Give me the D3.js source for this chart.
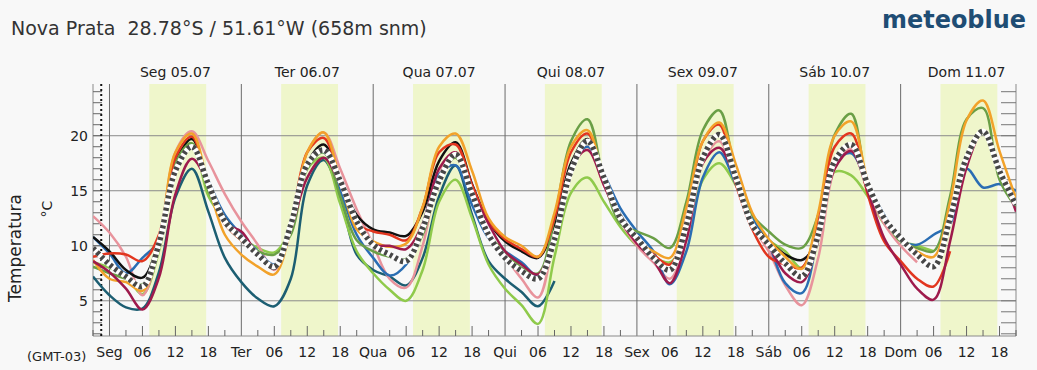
<!DOCTYPE html>
<html lang="pt">
<head>
<meta charset="UTF-8">
<title>Nova Prata multimodel</title>
<script src="https://cdn.jsdelivr.net/npm/d3@7"></script>
<style>
  body { margin: 0; background: #f8f8f8; }
  text { font-family: "DejaVu Sans", sans-serif; fill: #222; }
</style>
</head>
<body>
<script>
  // hours since Seg 05.07 00:00, every 3 h from Sun 21:00 to Sun 11 21:00
  const hours = d3.range(-3, 166, 3);

  const dayNames = ["Seg", "Ter", "Qua", "Qui", "Sex", "Sáb", "Dom"];
  const dayDates = ["05.07", "06.07", "07.07", "08.07", "09.07", "10.07", "11.07"];
  const hourLabels = ["06", "12", "18"];
  const tempTicks = [5, 10, 15, 20];
  const sunrise = 7.25, sunset = 17.6;

  // values per series: first at -3h, then 8 per day (00 03 06 09 12 15 18 21)
  const black = [10.8,
    9.5, 7.8, 7.1, 10.5, 17.5, 19.7, 15.8, 12.5,
    10.8, 9.3, 7.9, 11.5, 17.5, 19.2, 16.0, 12.8,
    11.5, 11.2, 10.9, 13.1, 17.7, 19.4, 15.6, 12.2,
    10.4, 9.5, 8.9, 12.0, 17.5, 19.7, 16.0, 12.8,
    10.7, 9.0, 7.8, 12.0, 18.0, 20.1, 16.2, 12.0,
    10.5, 9.2, 8.7, 10.3, null, null, null, null,
    null, null, null, null, null, null, null, null];
  const orange = [8.7,
    7.0, 6.7, 5.9, 10.0, 18.5, 20.2, 15.5, 11.0,
    9.2, 8.1, 7.4, 11.5, 18.5, 20.3, 16.0, 11.5,
    10.4, 9.9, 10.2, 13.5, 19.0, 20.2, 16.8, 12.5,
    10.8, 10.0, 9.0, 13.0, 19.0, 20.5, 16.0, 12.5,
    10.4, 9.5, 8.9, 13.5, 19.5, 21.2, 17.4, 13.0,
    10.6, 9.0, 7.9, 13.0, 20.0, 21.3, 15.9, 12.5,
    10.7, 9.5, 9.0, 14.0, 21.4, 23.2, 18.6, 14.3];
  const red = [9.0,
    9.3, 9.2, 8.6, 11.0, 18.0, 19.9, 15.5, 12.0,
    10.5, 9.2, 8.1, 12.0, 18.5, 19.8, 16.0, 12.0,
    11.3, 11.0, 10.5, 13.5, 18.5, 19.2, 15.5, 12.2,
    10.6, 9.7, 9.0, 12.5, 18.5, 20.2, 16.0, 12.5,
    10.5, 9.2, 8.3, 12.5, 19.5, 21.0, 15.6, 11.5,
    9.0, 8.3, 8.0, 12.5, 19.0, 20.2, 14.7, 10.4,
    8.6, 7.0, 6.3, 9.5, null, null, null, null];
  const crimson = [8.6,
    7.6, 6.1, 4.2, 7.1, 14.7, 17.9, 15.6, 12.0,
    11.3, 9.2, 8.1, 11.5, 16.2, 18.0, 15.6, 12.0,
    10.1, 10.0, 9.7, 12.0, 17.0, 18.5, 15.0, 12.0,
    9.5, 8.3, 7.4, 11.0, 17.0, 18.7, 15.5, 12.3,
    10.2, 8.7, 6.6, 10.5, 17.5, 18.9, 16.0, 12.0,
    10.0, 7.5, 6.7, 10.5, 17.0, 18.6, 15.0, 10.7,
    8.3, 6.1, 5.1, 10.4, 17.1, 20.4, 17.1, 13.1];
  const teal = [7.2,
    5.5, 4.4, 4.3, 7.6, 14.4, 17.0, 13.1, 8.9,
    6.7, 5.2, 4.5, 7.0, 15.5, 17.8, 14.5, 9.2,
    7.8, 7.2, 6.4, 8.9, 14.5, 17.3, 12.8, 8.6,
    7.0, 5.8, 4.5, 6.8, null, null, null, null,
    null, null, null, null, null, null, null, null,
    null, null, null, null, null, null, null, null,
    null, null, null, null, null, null, null, null];
  const blue = [10.8,
    9.3, 7.5, 8.9, 10.5, 18.0, 19.2, 15.9, 12.8,
    11.0, 9.5, 8.3, 11.5, 17.5, 18.5, 15.0, 11.0,
    8.9, 7.3, 8.3, 11.9, 16.5, 17.3, 13.7, 10.7,
    9.5, 8.5, 7.3, 11.0, 17.0, 19.0, 16.5, 13.4,
    11.3, 9.5, 6.5, 9.5, 16.2, 18.5, 15.6, 12.5,
    10.1, 6.6, 5.7, 11.0, 17.5, 18.4, 15.6, 12.8,
    10.5, 10.1, 11.0, 12.0, 17.0, 15.3, 15.6, 15.0];
  const olive = [8.1,
    7.5, 7.0, 6.5, 10.0, 17.5, 19.3, 15.0, 12.0,
    10.5, 9.5, 9.2, 11.0, 17.0, 18.5, 14.5, 10.5,
    9.5, 9.0, 8.8, 11.0, 16.0, 18.0, 14.5, 11.0,
    9.5, 8.0, 7.5, 12.5, 19.5, 21.5, 16.0, 12.0,
    11.3, 10.7, 9.8, 14.0, 20.5, 22.3, 16.5, 12.8,
    11.3, 10.1, 9.8, 12.8, 20.1, 22.0, 15.5, 12.5,
    10.4, 9.8, 9.5, 14.5, 21.5, 22.5, 16.0, 13.5];
  const lightGreen = [8.5,
    8.0, 7.3, 5.6, 9.5, 17.5, 19.3, 14.5, 12.3,
    10.8, 9.8, 9.4, 11.5, 17.0, 18.0, 13.8, 9.5,
    7.5, 6.0, 5.0, 7.8, 14.0, 16.0, 12.5, 8.3,
    6.1, 4.6, 2.9, 9.0, 14.8, 16.2, 14.0, 11.7,
    10.0, 9.0, 8.5, 11.0, 16.0, 17.5, 15.5, 12.5,
    10.5, 9.5, 8.0, 12.0, 16.7, 16.4, 14.5, 12.0,
    10.5, 10.0, 9.5, null, null, null, null, null];
  const pink = [12.7,
    11.2, 9.0, 5.5, 10.0, 18.5, 20.4, 17.7, 14.7,
    12.2, 10.1, 7.8, 11.5, 18.5, 20.3, 17.0, 13.3,
    10.1, 7.0, 6.2, 10.0, 16.5, 18.5, 14.5, 11.0,
    9.0, 7.0, 5.3, 11.0, 17.0, 19.0, 15.5, 12.3,
    10.0, 8.5, 7.0, 10.5, 17.5, 19.5, 15.7, 11.8,
    9.5, 6.4, 4.6, 8.9, 17.0, 18.8, 15.0, 12.0,
    10.0, 8.5, null, null, null, null, null, null];
  const mean = [9.8,
    8.3, 7.2, 6.3, 10.2, 16.8, 19.0, 15.6, 12.2,
    10.7, 9.2, 8.1, 11.9, 17.4, 18.7, 15.9, 12.2,
    10.1, 9.2, 8.6, 11.6, 15.9, 18.3, 14.7, 11.0,
    8.9, 7.7, 7.0, 10.6, 16.8, 19.5, 16.2, 12.5,
    10.7, 8.9, 7.8, 11.9, 18.0, 20.1, 16.2, 11.9,
    10.1, 8.4, 7.2, 11.0, 17.7, 19.2, 15.6, 12.5,
    10.7, 9.2, 8.1, 12.5, 18.0, 20.4, 16.8, 13.7];

  const models = [
    { values: teal, color: "#1c5e72" },
    { values: lightGreen, color: "#8fca4b" },
    { values: pink, color: "#e8939c" },
    { values: blue, color: "#2a6db3" },
    { values: black, color: "#111111" },
    { values: olive, color: "#6a9f46" },
    { values: red, color: "#e2361f" },
    { values: orange, color: "#f2a22a" },
    { values: crimson, color: "#9e1a4c" }
  ];

  const w = 1037, h = 370;
  const pLeft = 93, pRight = 1016, pTop = 84, pBottom = 336;

  const xScale = d3.scaleLinear().domain([-3, 165]).range([pLeft, pRight]);
  const yScale = d3.scaleLinear().domain([1.8, 24.7]).range([pBottom, pTop]);

  const svg = d3.select("body").append("svg")
      .attr("width", w)
      .attr("height", h);

  svg.append("defs").append("clipPath").attr("id", "plot")
     .append("rect")
     .attr("x", pLeft).attr("y", pTop)
     .attr("width", pRight - pLeft).attr("height", pBottom - pTop);

  // title + logo
  svg.append("text")
     .attr("x", 11).attr("y", 35)
     .style("font-size", "19px").style("fill", "#333")
     .style("white-space", "pre")
     .text("Nova Prata  28.78°S / 51.61°W (658m snm)");

  svg.append("text")
     .attr("x", 1026).attr("y", 28)
     .attr("text-anchor", "end")
     .attr("textLength", 144).attr("lengthAdjust", "spacingAndGlyphs")
     .style("font-size", "25px").style("font-weight", "bold").style("fill", "#1f4d74")
     .text("meteoblue");

  // daylight bands
  svg.append("g").selectAll("rect")
     .data(d3.range(7))
     .enter().append("rect")
     .attr("x", d => xScale(d * 24 + sunrise))
     .attr("y", pTop)
     .attr("width", xScale(sunset) - xScale(sunrise))
     .attr("height", pBottom - pTop)
     .attr("fill", "#eff6cb");

  // horizontal grid
  svg.append("g").selectAll("line")
     .data(tempTicks)
     .enter().append("line")
     .attr("x1", pLeft).attr("x2", pRight)
     .attr("y1", d => yScale(d)).attr("y2", d => yScale(d))
     .attr("stroke", "#8a8a8a").attr("stroke-width", 1);

  // day separators
  svg.append("g").selectAll("line")
     .data(d3.range(0, 7))
     .enter().append("line")
     .attr("x1", d => xScale(d * 24)).attr("x2", d => xScale(d * 24))
     .attr("y1", pTop).attr("y2", pBottom)
     .attr("stroke", "#6b6b6b").attr("stroke-width", 1);

  // frame
  svg.append("path")
     .attr("d", `M${pLeft},${pTop}V${pBottom}H${pRight}V${pTop}`)
     .attr("fill", "none").attr("stroke", "#8a8a8a");

  // temperature ticks, left and right, every degree
  const degTicks = d3.range(2, 25);
  svg.append("g").selectAll("line")
     .data(degTicks)
     .enter().append("line")
     .attr("x1", pLeft).attr("x2", pLeft + 9)
     .attr("y1", d => yScale(d)).attr("y2", d => yScale(d))
     .attr("stroke", "#666");
  svg.append("g").selectAll("line")
     .data(degTicks)
     .enter().append("line")
     .attr("x1", pRight - 15).attr("x2", pRight)
     .attr("y1", d => yScale(d)).attr("y2", d => yScale(d))
     .attr("stroke", "#777");

  // time ticks every 3 hours
  svg.append("g").selectAll("line")
     .data(d3.range(-3, 166, 3).filter(d => d % 24 !== 0))
     .enter().append("line")
     .attr("x1", d => xScale(d)).attr("x2", d => xScale(d))
     .attr("y1", pBottom).attr("y2", d => pBottom - (d % 6 === 0 ? 10 : 6))
     .attr("stroke", "#666");

  // now marker
  svg.append("line")
     .attr("x1", xScale(-1.5)).attr("x2", xScale(-1.5))
     .attr("y1", pTop).attr("y2", pBottom)
     .attr("stroke", "#111").attr("stroke-width", 2)
     .attr("stroke-dasharray", "2,3");

  // model lines
  const line = d3.line()
     .defined(d => d[1] !== null)
     .x(d => xScale(d[0]))
     .y(d => yScale(d[1]))
     .curve(d3.curveCatmullRom.alpha(0.5));

  const lines = svg.append("g").attr("clip-path", "url(#plot)");
  models.forEach(m => {
    lines.append("path")
      .attr("d", line(hours.map((t, i) => [t, m.values[i]])))
      .attr("fill", "none")
      .attr("stroke", m.color)
      .attr("stroke-width", 2.5)
      .attr("stroke-linejoin", "round");
  });

  // ensemble mean, dashed dark over white
  const meanPts = hours.map((t, i) => [t, mean[i]]);
  lines.append("path")
     .attr("d", line(meanPts))
     .attr("fill", "none").attr("stroke", "#ffffff").attr("stroke-width", 5.5);
  lines.append("path")
     .attr("d", line(meanPts))
     .attr("fill", "none").attr("stroke", "#474747").attr("stroke-width", 5.5)
     .attr("stroke-dasharray", "3,3");

  // y labels
  svg.append("g").selectAll("text")
     .data(tempTicks)
     .enter().append("text")
     .attr("x", 88).attr("y", d => yScale(d) + 5)
     .attr("text-anchor", "end")
     .style("font-size", "14px")
     .text(d => d);

  svg.append("text")
     .attr("transform", "translate(21,248) rotate(-90)")
     .attr("text-anchor", "middle")
     .style("font-size", "17px")
     .text("Temperatura");
  svg.append("text")
     .attr("transform", "translate(52,209) rotate(-90)")
     .attr("text-anchor", "middle")
     .style("font-size", "14px")
     .text("°C");

  // top day labels
  svg.append("g").selectAll("text")
     .data(d3.range(7))
     .enter().append("text")
     .attr("x", d => xScale(d * 24 + 12)).attr("y", 77)
     .attr("text-anchor", "middle")
     .style("font-size", "14px")
     .text(d => dayNames[d] + " " + dayDates[d]);

  // bottom axis labels
  const bottomLabels = [];
  dayNames.forEach((n, d) => {
    bottomLabels.push([d * 24, n]);
    hourLabels.forEach(hl => bottomLabels.push([d * 24 + (+hl), hl]));
  });
  svg.append("g").selectAll("text")
     .data(bottomLabels)
     .enter().append("text")
     .attr("x", d => xScale(d[0])).attr("y", 357)
     .attr("text-anchor", "middle")
     .style("font-size", "14px")
     .text(d => d[1]);

  svg.append("text")
     .attr("x", 27).attr("y", 361)
     .style("font-size", "13px")
     .text("(GMT-03)");
</script>
</body>
</html>
